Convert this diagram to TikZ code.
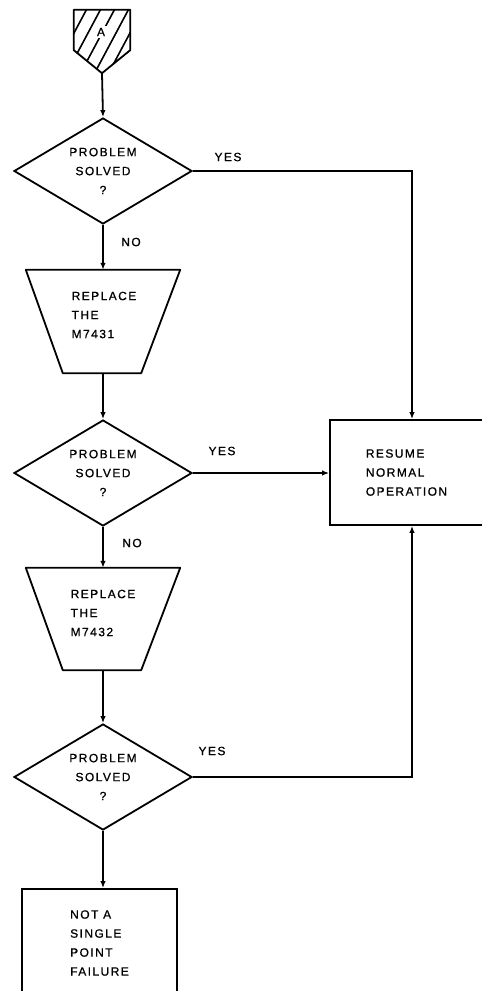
\documentclass[tikz,border=0pt]{standalone}
\usepackage{fontspec}
\newfontfamily\flowfont[LetterSpace=12,FakeBold=0.8]{Liberation Sans}
\usetikzlibrary{shapes.geometric,arrows.meta,positioning}

\tikzset{
  flowline/.style={line width=1.8pt},
  flowarrow/.style={flowline,-{Latex[length=7pt,width=5.5pt]}},
  txt/.style={font=\flowfont\fontsize{12}{19}\selectfont,inner sep=0pt},
  decision/.style={diamond,draw,flowline,txt,align=center,aspect=1.68,
    minimum width=178pt,minimum height=106pt},
  shapebox/.style={rectangle,inner sep=0pt},
  procbox/.style={rectangle,draw,flowline,txt,align=left},
}

\begin{document}
\begin{tikzpicture}[x=1pt,y=-1pt]
  \useasboundingbox (0,0) rectangle (482,991);

  % off-page connector A
  \node[shapebox,minimum width=56pt,minimum height=63pt] (conA) at (102,41.5) {};
  \begin{scope}
    \clip (conA.north west) -- (conA.north east) -- ([yshift=23pt]conA.south east)
      -- (conA.south) -- ([yshift=23pt]conA.south west) -- cycle;
    \foreach \x in {50,64,...,136}
      \draw[line width=1.6pt] (\x,78) -- ++(40,-75);
  \end{scope}
  \draw[flowline,line join=round] (conA.north west) -- (conA.north east)
    -- ([yshift=23pt]conA.south east) -- (conA.south)
    -- ([yshift=23pt]conA.south west) -- cycle;
  \node[txt,fill=white,inner sep=2pt] (letA) at (101,32) {A};

  % decisions
  \node[decision] (dec1) at (103,171) {PROBLEM\\SOLVED\\?};
  \node[decision] (dec2) at (103,473) {PROBLEM\\SOLVED\\?};
  \node[decision] (dec3) at (103,777) {PROBLEM\\SOLVED\\?};

  % replace boards
  \node[shapebox,minimum width=154pt,minimum height=103pt] (rep1) at (103,321.5) {};
  \draw[flowline,line join=round] (rep1.north west) -- (rep1.north east)
    -- ([xshift=-39pt]rep1.south east) -- ([xshift=37pt]rep1.south west) -- cycle;
  \node[txt,align=left] (rep1txt) at (104,315) {REPLACE\\THE\\M7431};

  \node[shapebox,minimum width=154pt,minimum height=102pt] (rep2) at (103,619) {};
  \draw[flowline,line join=round] (rep2.north west) -- (rep2.north east)
    -- ([xshift=-39pt]rep2.south east) -- ([xshift=37pt]rep2.south west) -- cycle;
  \node[txt,align=left] (rep2txt) at (103,613) {REPLACE\\THE\\M7432};

  % end boxes
  \node[procbox,minimum width=153pt,minimum height=105pt] (resume) at (406.5,472.5)
    {RESUME\\NORMAL\\OPERATION};
  \node[procbox,minimum width=155pt,minimum height=108pt] (nospf) at (99.5,943)
    {NOT A\\SINGLE\\POINT\\FAILURE};

  % main flow
  \draw[flowarrow] (conA.south) -- (dec1.north);
  \draw[flowarrow] (dec1.south) -- (rep1.north);
  \draw[flowarrow] (rep1.south) -- (dec2.north);
  \draw[flowarrow] (dec2.south) -- (rep2.north);
  \draw[flowarrow] (rep2.south) -- (dec3.north);
  \draw[flowarrow] (dec3.south) -- ([xshift=3.5pt]nospf.north);

  % yes branches
  \draw[flowarrow] (dec1.east) -| ([xshift=5.5pt]resume.north);
  \draw[flowarrow] (dec2.east) -- (dec2.east -| resume.west);
  \draw[flowarrow] (dec3.east) -| ([xshift=5.5pt]resume.south);

  % labels
  \node[txt] (yes1) at (228,157) {YES};
  \node[txt] (no1) at (131,242) {NO};
  \node[txt] (yes2) at (222,451) {YES};
  \node[txt] (no2) at (132,543) {NO};
  \node[txt] (yes3) at (212,751) {YES};
\end{tikzpicture}
\end{document}
